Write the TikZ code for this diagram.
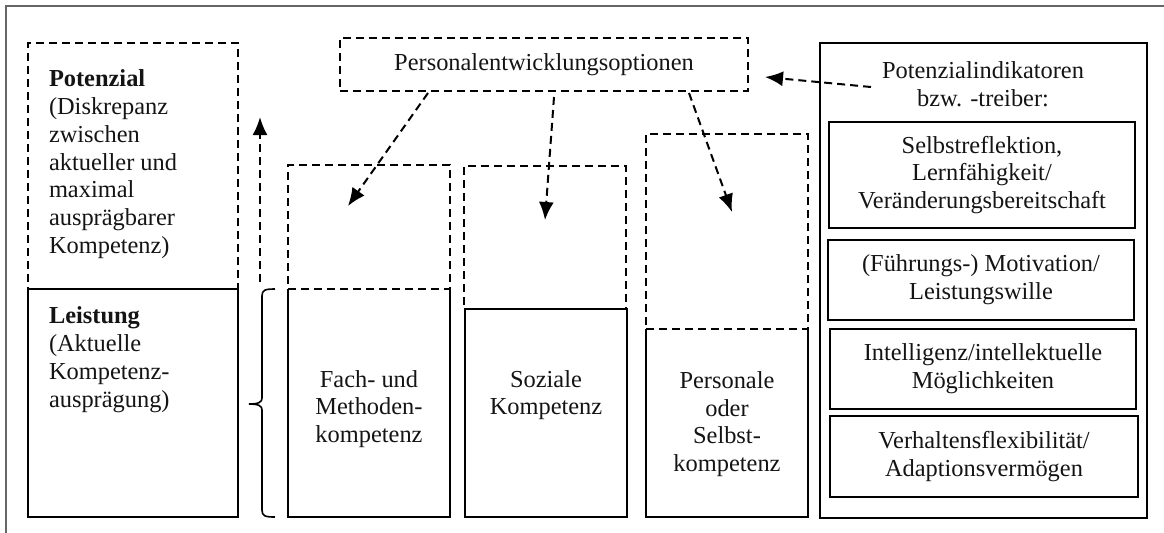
\documentclass[tikz,border=0pt]{standalone}
\usepackage{fontspec}
\setmainfont{Liberation Serif}
\usetikzlibrary{arrows.meta}
\begin{document}
\begin{tikzpicture}[x=0.5pt,y=-0.5pt,
  every node/.style={inner sep=0pt, outer sep=0pt},
  txt/.style={font=\fontsize{12.2}{13.85}\selectfont, text=black!92},
  dbox/.style={draw, line width=1pt, dash pattern=on 4pt off 2.5pt},
  sbox/.style={draw, line width=1pt},
  ibox/.style={draw, line width=1.3pt, txt, align=center, minimum width=153pt},
  darrow/.style={line width=1pt, dash pattern=on 4pt off 2.5pt, -{Latex[length=9pt,width=7.5pt]}},
  corner/.style={anchor=north west}
]
\useasboundingbox (0,0) rectangle (1164,532);
\draw[black!60, line width=0.6pt] (1170,6) -- (6,6) -- (6,540);

% left column
\node[dbox, corner, minimum width=105pt, minimum height=123pt] (pot) at (28,43) {};
\node[sbox, corner, minimum width=105pt, minimum height=114pt] (lei) at (28,289) {};
\node[txt, anchor=north west, align=left] (pottext) at (49,70)
  {\textbf{Potenzial}\\(Diskrepanz\\zwischen\\aktueller und\\maximal\\ausprägbarer\\Kompetenz)};
\node[txt, anchor=north west, align=left] (leitext) at (49,307)
  {\textbf{Leistung}\\(Aktuelle\\Kompetenz-\\ausprägung)};

% up arrow and brace
\coordinate (upS) at (260,282);
\coordinate (upE) at (260,117);
\draw[darrow] (upS) -- (upE);
\coordinate (brTop) at (275,289);
\coordinate (brBot) at (275,517);
\coordinate (brTip) at (249,404);
\draw[line width=0.8pt] (brTop) .. controls (265,289) and (262,290) .. (262,296)
  -- (262,398) .. controls (262,402) and (259,404) .. (brTip)
  .. controls (259,404) and (262,406) .. (262,410)
  -- (262,510) .. controls (262,516) and (265,517) .. (brBot);

% Fach
\node[dbox, corner, minimum width=81pt, minimum height=62pt] (fachd) at (288,165) {};
\node[corner, minimum width=81pt, minimum height=114pt] (fach) at (288,289) {};
\draw[line width=1pt] (fach.north west) -- (fach.south west) -- (fach.south east) -- (fach.north east);
\node[txt, align=center] (fachtext) at (369,409) {Fach- und\\Methoden-\\kompetenz};

% Soziale
\node[dbox, corner, minimum width=81pt, minimum height=71.5pt] (sozd) at (464,166) {};
\node[sbox, corner, minimum width=81pt, minimum height=104pt] (soz) at (465,309) {};
\node[txt, align=center] (soztext) at (546,395) {Soziale\\Kompetenz};

% Personale
\node[dbox, corner, minimum width=81pt, minimum height=97.5pt] (perd) at (646,134) {};
\node[corner, minimum width=81pt, minimum height=94pt] (per) at (646,329) {};
\draw[line width=1pt] (per.north west) -- (per.south west) -- (per.south east) -- (per.north east);
\node[txt, align=center] (pertext) at (727,424) {Personale\\oder\\Selbst-\\kompetenz};

% Personalentwicklungsoptionen
\node[dbox, txt, minimum width=204pt, minimum height=26.5pt] (pe) at (544,64.5) {Personalentwicklungsoptionen};
\coordinate (tipF) at (348,206);
\coordinate (tipS) at (545,220);
\coordinate (tipP) at (732,212);
\draw[darrow] ([xshift=-58pt,yshift=-1pt]pe.south) -- (tipF);
\draw[darrow] ([xshift=5pt,yshift=-3pt]pe.south) -- (tipS);
\draw[darrow] ([xshift=72.5pt,yshift=-1pt]pe.south) -- (tipP);

% right box
\node[sbox, line width=1.3pt, corner, minimum width=163.5pt, minimum height=237.5pt] (rbox) at (820,43) {};
\node[txt, align=center, anchor=north] (rhead) at (983,62) {Potenzialindikatoren\\bzw. -treiber:};
\node[ibox, minimum height=53pt] (b1) at (982,175) {Selbstreflektion,\\Lernfähigkeit/\\Veränderungsbereitschaft};
\node[ibox, minimum height=40pt] (b2) at (981,280) {(Führungs-) Motivation/\\Leistungswille};
\node[ibox, minimum height=40pt] (b3) at (983,369) {Intelligenz/intellektuelle\\Möglichkeiten};
\node[ibox, minimum height=40.5pt, minimum width=154pt] (b4) at (984,456.5) {Verhaltensflexibilität/\\Adaptionsvermögen};

\coordinate (piStart) at (871,87);
\coordinate (tipPE) at (765,77);
\draw[darrow] (piStart) -- (tipPE);
\end{tikzpicture}
\end{document}
